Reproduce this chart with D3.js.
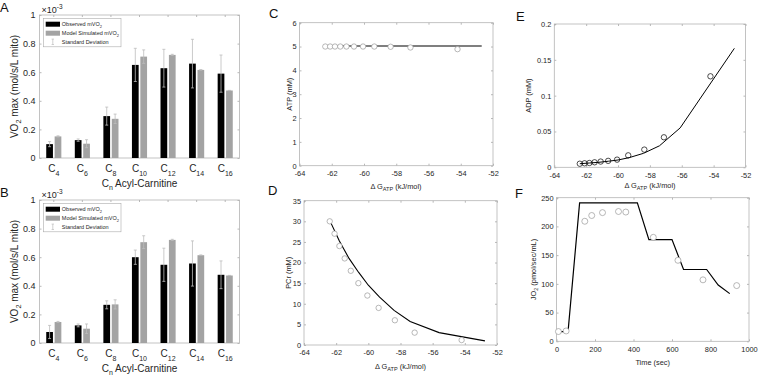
<!DOCTYPE html>
<html><head><meta charset="utf-8">
<script src="https://cdn.jsdelivr.net/npm/d3@7"></script>
<style>
body{margin:0;background:#fff;}
svg{display:block;font-family:"Liberation Sans",Arial,Helvetica,sans-serif;}
</style></head><body>
<svg id="chart" width="759" height="378"></svg>
<script>
// ---------- DATA ----------
// Panels A/B: VO2 max in units of 1e-3 mol/s/L mito
const chainLengths = ["4","6","8","10","12","14","16"];
const observedA   = [0.097, 0.125, 0.293, 0.651, 0.628, 0.660, 0.590];
const observedSdA = [0.018, 0.008, 0.063, 0.116, 0.132, 0.170, 0.130];
const modelA      = [0.151, 0.100, 0.274, 0.709, 0.721, 0.616, 0.472];
const modelSdA    = [0.004, 0.028, 0.033, 0.047, 0.004, 0.002, 0.001];
const observedB   = [0.077, 0.123, 0.267, 0.600, 0.547, 0.556, 0.477];
const observedSdB = [0.046, 0.010, 0.028, 0.050, 0.116, 0.158, 0.097];
const modelB      = [0.147, 0.100, 0.270, 0.705, 0.721, 0.614, 0.472];
const modelSdB    = [0.004, 0.033, 0.032, 0.045, 0.004, 0.002, 0.001];
const barYTicks   = [0, 0.2, 0.4, 0.6, 0.8, 1];

// Panels C/D/E: observed states (Delta G_ATP, kJ/mol)
const dGobs   = [-62.40, -62.10, -61.80, -61.47, -61.09, -60.62, -60.06, -59.36, -58.35, -57.12, -54.20];
const atpObs  = [5.0, 5.0, 5.0, 5.0, 5.0, 5.0, 5.0, 5.0, 4.99, 4.96, 4.89];
const pcrObs  = [30, 27, 24, 21, 18, 15, 12, 9, 6, 3, 1.2];
const adpObs  = [0.0050, 0.0056, 0.0060, 0.0070, 0.0080, 0.0090, 0.0107, 0.0167, 0.0247, 0.0419, 0.127];
// model curves
const dGmodelC = [-62.3, -52.7];
const atpModel = [5.02, 5.02];
const dGmodelD = [-62.35, -61.8, -61.2, -60.6, -60.0, -59.3, -58.4, -57.4, -55.6, -52.75];
const pcrModel = [29.8, 25.2, 21.0, 17.6, 14.5, 11.6, 8.4, 5.7, 3.0, 1.0];
const dGmodelE = [-62.4, -61.8, -61.2, -60.6, -60.0, -59.3, -58.4, -57.4, -56.1, -52.7];
const adpModel = [0.0050, 0.0060, 0.0070, 0.0085, 0.0102, 0.0135, 0.0195, 0.030, 0.055, 0.166];
const dGTicks  = [-64, -62, -60, -58, -56, -54, -52];

// Panel F: JO2 time course
const timeObs  = [10, 50, 147, 183, 239, 322, 360, 503, 631, 761, 936];
const jo2Obs   = [17, 18, 209, 219, 224, 226, 225, 181, 141, 107, 97];
const timeModel = [10, 60, 120, 420, 480, 600, 660, 780, 840, 900];
const jo2Model  = [17, 17, 241, 241, 177, 177, 125, 125, 98, 83];

// ---------- DRAWING ----------
const svg = d3.select("#chart");
const TXT = "#262626", AX = "#b4b4b4";
const plain = d => String(d);

function frame(x, y, xt, yt, o) {
  const g = svg.append("g");
  const [x0, x1] = x.range(), [y0, y1] = [y.range()[0], y.range()[1]];
  const tl = o.tl || 2;
  const fs = o.fs;
  const bx = d3.axisBottom(x).tickSize(-tl).tickPadding(o.xpad);
  if (xt) bx.tickValues(xt);
  bx.tickFormat(o.xfmt || plain);
  const gx = g.append("g").attr("transform", `translate(0,${y0})`).call(bx);
  const ly = d3.axisLeft(y).tickValues(yt).tickSize(-tl).tickPadding(o.ypad).tickFormat(o.yfmt || plain);
  const gy = g.append("g").attr("transform", `translate(${x0},0)`).call(ly);
  const tx = d3.axisTop(x).tickSize(-tl).tickFormat("");
  if (xt) tx.tickValues(xt);
  const gt = g.append("g").attr("transform", `translate(0,${y1})`).call(tx);
  const gr = g.append("g").attr("transform", `translate(${x1},0)`).call(d3.axisRight(y).tickValues(yt).tickSize(-tl).tickFormat(""));
  [gt, gr].forEach(a => a.selectAll("text").remove());
  [gx, gy, gt, gr].forEach(a => {
    a.select(".domain").remove();
    a.selectAll("line").attr("stroke", "#888").attr("stroke-width", 0.6);
    a.selectAll("text").attr("fill", TXT).attr("font-size", fs).attr("font-family", null);
  });
  g.append("rect").attr("x", x0).attr("y", y1).attr("width", x1 - x0).attr("height", y0 - y1)
    .attr("fill", "none").attr("stroke", AX).attr("stroke-width", 0.8);
  return {g, gx};
}

function letter(t, x, y) {
  svg.append("text").attr("x", x).attr("y", y).attr("font-size", 13).attr("fill", "#111").text(t);
}

function dgLabel(cx, y, fs) {
  const t = svg.append("text").attr("x", cx).attr("y", y).attr("text-anchor", "middle")
    .attr("font-size", fs).attr("fill", TXT);
  t.append("tspan").text("\u0394 G");
  t.append("tspan").attr("dy", 2.5).attr("font-size", fs * 0.75).text("ATP");
  t.append("tspan").attr("dy", -2.5).text(" (kJ/mol)");
}

function yLabel(parts, x, cy, fs) {
  const t = svg.append("text").attr("transform", `translate(${x},${cy}) rotate(-90)`)
    .attr("text-anchor", "middle").attr("font-size", fs).attr("fill", TXT);
  let back = 0;
  parts.forEach(p => {
    if (typeof p === "object") {
      t.append("tspan").attr("dy", fs * 0.3).attr("font-size", fs * 0.72).text(p.sub);
      back = -fs * 0.3;
    } else {
      t.append("tspan").attr("dy", back).text(p);
      back = 0;
    }
  });
}

// ---- Bar panels ----
function barPanel(top, obs, obsSd, mod, modSd, label) {
  const x = d3.scaleBand().domain(chainLengths).range([39.5, 239.5]);
  const y = d3.scaleLinear().domain([0, 1]).range([top + 143, top]);
  const f = frame(x, y, null, barYTicks, {fs: 9, xpad: 5, ypad: 4,
    yfmt: d => (d === 0 || d === 1) ? String(d) : d.toFixed(1)});
  f.gx.selectAll(".tick text").each(function(d) {
    const t = d3.select(this); t.text(null).attr("font-size", 10).attr("dy", "0.9em");
    t.append("tspan").text("C");
    t.append("tspan").attr("dy", 3.5).attr("font-size", 7).text(d);
  });
  f.gx.selectAll(".tick line").remove();
  const bw = x.bandwidth(), w = bw * 0.235, off = bw * 0.147;
  const cx = i => x(chainLengths[i]) + bw / 2;
  const series = [{v: obs, sd: obsSd, c: "#000", o: -off}, {v: mod, sd: modSd, c: "#a3a3a3", o: off}];
  series.forEach(s => {
    svg.append("g").selectAll("rect").data(s.v).join("rect")
      .attr("x", (d, i) => cx(i) + s.o - w / 2).attr("width", w)
      .attr("y", d => y(d)).attr("height", d => y(0) - y(d)).attr("fill", s.c);
  });
  series.forEach(s => {
    const eg = svg.append("g").attr("stroke", "#bdbdbd").attr("stroke-width", 0.8);
    s.v.forEach((v, i) => {
      const xc = cx(i) + s.o;
      eg.append("line").attr("x1", xc).attr("x2", xc).attr("y1", y(v - s.sd[i])).attr("y2", y(v + s.sd[i]));
      [v - s.sd[i], v + s.sd[i]].forEach(e => eg.append("line").attr("x1", xc - 1.5).attr("x2", xc + 1.5).attr("y1", y(e)).attr("y2", y(e)));
    });
  });
  // exponent
  const ex = svg.append("text").attr("x", 41.5).attr("y", top - 2).attr("font-size", 9).attr("fill", TXT);
  ex.append("tspan").text("\u00d710");
  ex.append("tspan").attr("dy", -4.5).attr("font-size", 6.5).text("-3");
  // legend
  const lg = svg.append("g").attr("transform", `translate(43.3,${top + 3.3})`);
  lg.append("rect").attr("width", 77.7).attr("height", 28.5).attr("fill", "#fff").attr("stroke", "#aaa").attr("stroke-width", 0.6);
  lg.append("rect").attr("x", 2.4).attr("y", 3.4).attr("width", 14.3).attr("height", 5).attr("fill", "#000");
  lg.append("rect").attr("x", 2.4).attr("y", 12.4).attr("width", 14.3).attr("height", 5).attr("fill", "#a3a3a3");
  const eg = lg.append("g").attr("stroke", "#bdbdbd").attr("stroke-width", 0.7);
  eg.append("line").attr("x1", 9.5).attr("x2", 9.5).attr("y1", 20.8).attr("y2", 26.2);
  eg.append("line").attr("x1", 8.3).attr("x2", 10.7).attr("y1", 20.8).attr("y2", 20.8);
  eg.append("line").attr("x1", 8.3).attr("x2", 10.7).attr("y1", 26.2).attr("y2", 26.2);
  const items = [["Observed mVO", "2"], ["Model Simulated mVO", "2"], ["Standard Deviation", null]];
  items.forEach((it, i) => {
    const t = lg.append("text").attr("x", 18.5).attr("y", 7.9 + i * 9).attr("font-size", 5.5).attr("fill", TXT);
    t.append("tspan").text(it[0]);
    if (it[1]) t.append("tspan").attr("dy", 1.6).attr("font-size", 4).text(it[1]);
  });
  // axis labels
  const xl = svg.append("text").attr("x", 139.5).attr("y", top + 172).attr("text-anchor", "middle").attr("font-size", 10).attr("fill", TXT);
  xl.append("tspan").text("C");
  xl.append("tspan").attr("dy", 3).attr("font-size", 7).text("n");
  xl.append("tspan").attr("dy", -3).text(" Acyl-Carnitine");
  yLabel(["VO", {sub: "2"}, " max (mol/s/L mito)"], 17.5, top + 71.5, 10);
  letter(label, 0, top - 3.5);
}
barPanel(15, observedA, observedSdA, modelA, modelSdA, "A");
barPanel(200, observedB, observedSdB, modelB, modelSdB, "B");

// ---- Scatter/line panels ----
function linePanel(o) {
  const x = d3.scaleLinear().domain(o.xd).range(o.xr);
  const y = d3.scaleLinear().domain(o.yd).range(o.yr);
  frame(x, y, o.xt, o.yt, {fs: 7.4, xpad: 5, ypad: 3, yfmt: o.yfmt});
  const line = d3.line().x(d => x(d[0])).y(d => y(d[1]));
  svg.append("path").datum(d3.zip(o.mx, o.my)).attr("d", line).attr("fill", "none")
    .attr("stroke", o.lc).attr("stroke-width", o.lw);
  svg.append("g").selectAll("circle").data(d3.zip(o.ox, o.oy)).join("circle")
    .attr("cx", d => x(d[0])).attr("cy", d => y(d[1])).attr("r", o.r || 2.7)
    .attr("fill", o.cf).attr("stroke", o.cs).attr("stroke-width", 0.7);
  return {x, y};
}

linePanel({xd: [-64, -52], xr: [299.5, 493], yd: [0, 6], yr: [165.7, 22.7], xt: dGTicks, yt: d3.range(0, 7),
  mx: dGmodelC, my: atpModel, ox: dGobs, oy: atpObs, lc: "#555", lw: 1.6, cf: "#fff", cs: "#999"});
yLabel(["ATP (mM)"], 291.5, 94.2, 7.4);
dgLabel(396, 188.5, 7.4);
letter("C", 269, 17.5);

linePanel({xd: [-64, -52], xr: [304, 497], yd: [0, 35], yr: [345, 200.7], xt: dGTicks, yt: d3.range(0, 36, 5),
  mx: dGmodelD, my: pcrModel, ox: dGobs, oy: pcrObs, lc: "#000", lw: 1.1, cf: "#fff", cs: "#999"});
yLabel(["PCr (mM)"], 291, 272.8, 7.4);
dgLabel(400.5, 368.5, 7.4);
letter("D", 268, 195);

linePanel({xd: [-64, -52], xr: [554.3, 745.5], yd: [0, 0.2], yr: [167.3, 24], xt: dGTicks, yt: [0, 0.05, 0.1, 0.15, 0.2],
  mx: dGmodelE, my: adpModel, ox: dGobs, oy: adpObs, lc: "#000", lw: 1, cf: "none", cs: "#000"});
yLabel(["ADP (mM)"], 531, 95.6, 7.4);
dgLabel(650, 187.5, 7.4);
letter("E", 516, 21);

linePanel({xd: [0, 1000], xr: [556.5, 749], yd: [0, 250], yr: [341.3, 197.7], xt: d3.range(0, 1001, 200), yt: d3.range(0, 251, 50),
  mx: timeModel, my: jo2Model, ox: timeObs, oy: jo2Obs, lc: "#000", lw: 1.2, cf: "#fff", cs: "#999", r: 3});
yLabel(["JO", {sub: "2"}, " (pmol/sec/mL)"], 536, 269.5, 7.4);
svg.append("text").attr("x", 652.7).attr("y", 364.5).attr("text-anchor", "middle").attr("font-size", 7.4).attr("fill", TXT).text("Time (sec)");
letter("F", 515, 198);
</script>
</body></html>
